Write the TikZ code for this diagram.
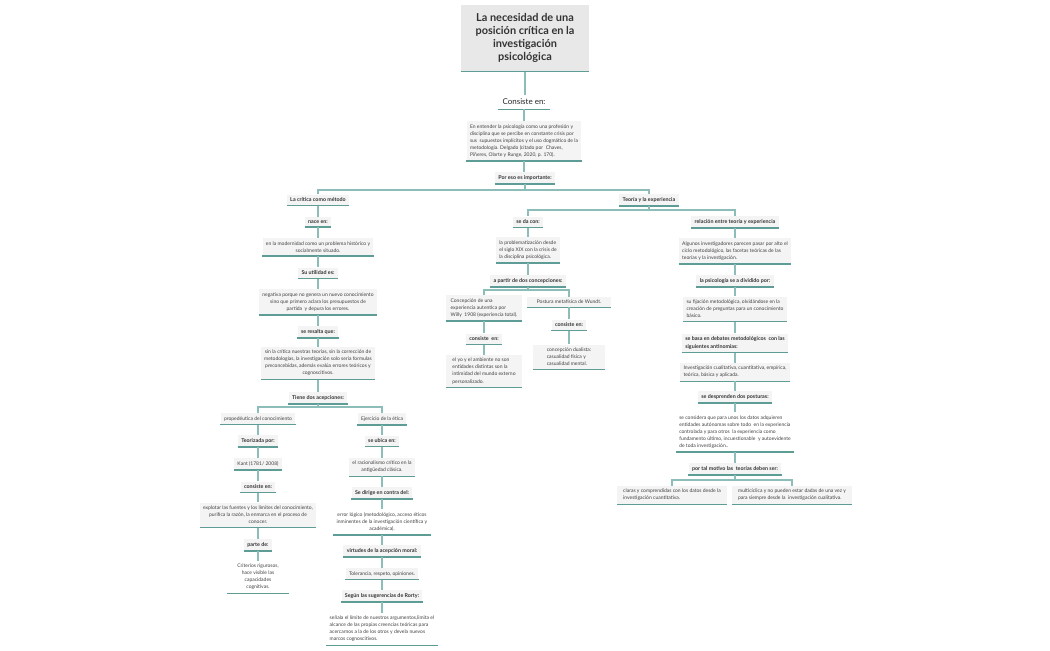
\documentclass[tikz,border=0pt]{standalone}
\usepackage{fontspec}
\setmainfont{Lato}
\definecolor{gry}{HTML}{F4F4F4}
\definecolor{ttl}{HTML}{E8E8E8}
\definecolor{ulc}{HTML}{5E9C96}
\definecolor{lnc}{HTML}{8DBDB8}
\begin{document}
\hyphenpenalty=10000 \exhyphenpenalty=10000
\begin{tikzpicture}[x=0.75pt,y=-0.75pt,
  ul/.style={draw=ulc,line width=0.9pt},
  conn/.style={draw=lnc,line width=0.8pt},
  base/.style={inner sep=2.5pt,text=black!75,font=\fontsize{3.75}{5.3}\selectfont,
    append after command={(\tikzlastnode.south west) edge[ul] (\tikzlastnode.south east)}},
  box/.style={base,fill=gry},
  wbox/.style={base},
  lbl/.style={base,fill=gry,font=\fontsize{4}{5.3}\selectfont\bfseries,text=black!80},
]
\useasboundingbox (0,0) rectangle (1050,650);
\node[fill=ttl,minimum width=96pt,minimum height=50pt,inner sep=1pt,align=center,font=\fontsize{8.2}{9.8}\selectfont\bfseries,text=black!80,
  append after command={(\tikzlastnode.south west) edge[draw=ulc,line width=1.2pt] (\tikzlastnode.south east)}] (t) at (525,38)
  {La necesidad de una\\posición crítica en la\\investigación\\psicológica};
\node[base,font=\fontsize{6}{7}\selectfont,text=black!85,inner sep=3pt] (ce) at (524,102) {Consiste en:};
\node[box,align=left] (b1) at (524,141) {En entender la psicología como una profesión y\\disciplina que se percibe en constante crisis por\\sus\ \ supuestos implícitos y el uso dogmático de la\\metodología. Delgado (citado por\ \ Chaves,\\Piñeres, Olarte y Runge, 2020, p. 170).};
\node[lbl] (pe) at (525,178) {Por eso es importante:};
\node[lbl] (lc) at (318,200) {La crítica como método};
\node[lbl] (te) at (649,200) {Teoría y la experiencia};
% left column
\node[lbl] (ne) at (318,222) {nace en:};
\node[box,align=center] (mo) at (318,247) {en la modernidad como un problema histórico y\\socialmente situado.};
\node[lbl] (su) at (318,273) {Su utilidad es:};
\node[box,align=center] (ng) at (318,302) {negativa porque no genera un nuevo conocimiento\\sino que primero aclara los presupuestos de\\partida\ \ y depura los errores.};
\node[lbl] (sr) at (318,332) {se resalta que:};
\node[box,align=center] (sc) at (318,363) {sin la crítica nuestras teorías, sin la corrección de\\metodologías, la investigación solo sería formulas\\preconcebidas, además evalúa errores teóricos y\\cognoscitivos.};
\node[lbl] (td) at (318,398) {Tiene dos acepciones:};
\node[box] (pc) at (258,419) {propedéutica del conocimiento};
\node[box] (ej) at (382,419) {Ejercicio de la ética};
\node[lbl] (tp) at (258,441) {Teorizada por:};
\node[box] (ka) at (258,464) {Kant (1781/ 2008)};
\node[lbl] (c1) at (258,487) {consiste en:};
\node[box,align=center] (ex) at (258,515) {explotar las fuentes y los límites del conocimiento,\\purifica la razón, la enmarca en el proceso de\\conocer.};
\node[lbl] (pd) at (258,545) {parte de:};
\node[wbox,align=center,minimum width=46pt] (cr) at (258,577) {Criterios rigurosos,\\hace visible las\\capacidades\\cognitivas.};
\node[lbl] (ub) at (382,441) {se ubica en:};
\node[box,align=center] (ra) at (382,467) {el racionalismo crítico en la\\antigüedad clásica.};
\node[lbl] (sd) at (382,493) {Se dirige en contra del:};
\node[wbox,align=center] (er) at (382,522) {error lógico (metodológico, acceso éticos\\inminentes de la investigación científica y\\académica).};
\node[lbl] (vi) at (382,551) {virtudes de la acepción moral:};
\node[box] (to) at (382,574) {Tolerancia, respeto, opiniones.};
\node[lbl] (ro) at (382,596) {Según las sugerencias de Rorty:};
\node[wbox,align=left] (se) at (382,629) {señala el límite de nuestros argumentos,limita el\\alcance de las propias creencias teóricas para\\acercarnos a la de los otros y devela nuevos\\marcos cognoscitivos.};
% middle
\node[lbl] (dc) at (528,222) {se da con:};
\node[box,align=left] (pr) at (528,250) {la problematización desde\\el siglo XIX con la crisis de\\la disciplina psicológica.};
\node[lbl] (ap) at (528,281) {a partir de dos concepciones:};
\node[box,align=left,minimum width=57pt] (co) at (484,308) {Concepción de una\\experiencia autentica por\\Willy\ \ 1908 (experiencia total).};
\node[box,minimum width=63pt,align=left] (pm) at (569,302) {Postura metafísica de Wundt.};
\node[lbl] (c2) at (484,339) {consiste\ \ en:};
\node[box,align=left,minimum width=57pt] (yo) at (484,371) {el yo y el ambiente no son\\entidades distintas son la\\intimidad del mundo externo\\personalizado.};
\node[lbl] (c3) at (569,325) {consiste en:};
\node[box,align=left,minimum width=54pt] (du) at (569,357) {concepción dualista:\\casualidad física y\\casualidad mental.};
% right
\node[lbl] (re) at (735,222) {relación entre teoría y experiencia};
\node[box,align=left] (al) at (735,251) {Algunos investigadores parecen pasar por alto el\\ciclo metodológico, las facetas teóricas de las\\teorías y la investigación.};
\node[lbl] (ps) at (735,281) {la psicología se a dividido por:};
\node[box,align=left] (fi) at (735,309) {su fijación metodológica, olvidándose en la\\creación de preguntas para un conocimiento\\básico.};
\node[lbl,align=left] (de) at (735,343) {se basa en debates metodológicos\ \ con las\\siguientes antinomias:};
\node[box,align=left] (iv) at (735,372) {Investigación cualitativa, cuantitativa, empírica,\\teórica, básica y aplicada.};
\node[lbl] (dp) at (735,397) {se desprenden dos posturas:};
\node[wbox,align=left] (sp) at (735,432) {se considera que para unos los datos adquieren\\entidades autónomas sobre todo\ \ en la experiencia\\controlada y para otros\ \ la experiencia como\\fundamento último, incuestionable\ \ y autoevidente\\de toda investigación..};
\node[lbl] (pt) at (735,469) {por tal motivo las\ \ teorías deben ser:};
\node[box,align=left,minimum width=82pt] (cl) at (672,495) {claras y comprendidas con los datos desde la\\investigación cuantitativa.};
\node[box,align=left,minimum width=90pt] (mu) at (792,495) {multicíclica y no pueden estar dadas de una vez y\\para siempre desde la\ \ investigación cualitativa.};
% connectors
\foreach \a/\b in {t/ce,ce/b1,b1/pe,lc/ne,ne/mo,mo/su,su/ng,ng/sr,sr/sc,sc/td,pc/tp,tp/ka,ka/c1,c1/ex,ex/pd,pd/cr,
  ej/ub,ub/ra,ra/sd,sd/er,er/vi,vi/to,to/ro,ro/se,dc/pr,pr/ap,co/c2,c2/yo,pm/c3,c3/du,
  re/al,al/ps,ps/fi,fi/de,de/iv,iv/dp,dp/sp,sp/pt}
  \draw[conn] (\a.south) -- (\a.south |- \b.north);
\foreach \a/\b/\y in {pe/lc/190,pe/te/190,te/dc/210,te/re/210,td/pc/407,td/ej/407,ap/co/290,ap/pm/290,pt/cl/480,pt/mu/480}
  \draw[conn] (\a.south) |- (\b.north |- 0,\y) -- (\b.north);
\end{tikzpicture}
\end{document}
